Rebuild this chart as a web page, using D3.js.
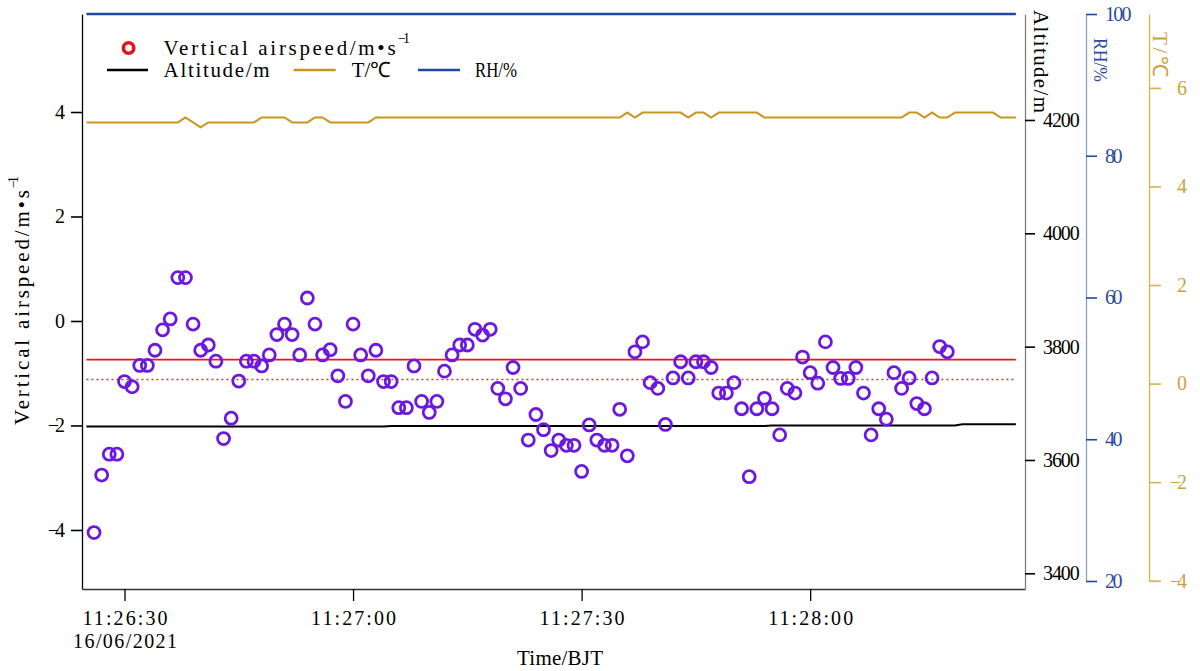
<!DOCTYPE html>
<html>
<head>
<meta charset="utf-8">
<script src="https://cdn.jsdelivr.net/npm/d3@7"></script>
<style>
  html, body { margin: 0; padding: 0; background: #fff; }
  svg { display: block; }
</style>
</head>
<body>
<svg id="chart" width="1200" height="671"></svg>
<script>
// ---- Data: 1 Hz aircraft samples, 16 June 2021 ----
const airspeedStart = "2021-06-16T11:26:26";
const airspeed = [
  -4.05, -2.95, -2.55, -2.55, -1.16, -1.26, -0.85, -0.85, -0.56, -0.17,
   0.04,  0.83,  0.83, -0.06, -0.56, -0.46, -0.77, -2.25, -1.86, -1.15,
  -0.77, -0.77, -0.86, -0.65, -0.26, -0.06, -0.26, -0.65,  0.44, -0.06,
  -0.65, -0.55, -1.05, -1.54, -0.06, -0.65, -1.05, -0.56, -1.16, -1.16,
  -1.66, -1.66, -0.86, -1.54, -1.75, -1.54, -0.96, -0.65, -0.46, -0.46,
  -0.16, -0.27, -0.16, -1.29, -1.49, -0.89, -1.29, -2.28, -1.79, -2.08,
  -2.48, -2.28, -2.38, -2.38, -2.88, -1.99, -2.28, -2.38, -2.38, -1.69,
  -2.58, -0.59, -0.40, -1.18, -1.29, -1.98, -1.09, -0.78, -1.09, -0.78,
  -0.78, -0.89, -1.38, -1.38, -1.18, -1.68, -2.98, -1.68, -1.48, -1.68,
  -2.18, -1.29, -1.38, -0.69, -0.99, -1.19, -0.40, -0.89, -1.10, -1.10,
  -0.89, -1.38, -2.18, -1.68, -1.88, -0.99, -1.29, -1.09, -1.58, -1.68,
  -1.09, -0.49, -0.59
];

const profileStart = "2021-06-16T11:26:25";
const altitude = [
  3659,3659,3659,3659,3659,3659,3659,3659,3659,3659,
  3659,3659,3659,3659,3659,3659,3659,3659,3659,3659,
  3659,3659,3659,3659,3659,3659,3659,3659,3659,3659,
  3659,3659,3659,3659,3659,3659,3659,3659,3659,3659,
  3660,3660,3660,3660,3660,3660,3660,3660,3660,3660,
  3660,3660,3660,3660,3660,3660,3660,3660,3660,3660,
  3660,3660,3660,3660,3660,3660,3660,3660,3660,3660,
  3660,3660,3660,3660,3660,3660,3660,3660,3660,3660,
  3660,3660,3660,3660,3660,3660,3660,3660,3660,3660,
  3661,3661,3661,3661,3661,3661,3661,3661,3661,3661,
  3661,3661,3661,3661,3661,3661,3661,3661,3661,3661,
  3661,3661,3661,3661,3661,3663,3663,3663,3663,3663,
  3663,3663,3663
];
const temperature = [
  5.3,5.3,5.3,5.3,5.3,5.3,5.3,5.3,5.3,5.3,
  5.3,5.3,5.3,5.4,5.3,5.2,5.3,5.3,5.3,5.3,
  5.3,5.3,5.3,5.4,5.4,5.4,5.4,5.3,5.3,5.3,
  5.4,5.4,5.3,5.3,5.3,5.3,5.3,5.3,5.4,5.4,
  5.4,5.4,5.4,5.4,5.4,5.4,5.4,5.4,5.4,5.4,
  5.4,5.4,5.4,5.4,5.4,5.4,5.4,5.4,5.4,5.4,
  5.4,5.4,5.4,5.4,5.4,5.4,5.4,5.4,5.4,5.4,
  5.4,5.5,5.4,5.5,5.5,5.5,5.5,5.5,5.5,5.4,
  5.5,5.5,5.4,5.5,5.5,5.5,5.5,5.5,5.5,5.4,
  5.4,5.4,5.4,5.4,5.4,5.4,5.4,5.4,5.4,5.4,
  5.4,5.4,5.4,5.4,5.4,5.4,5.4,5.4,5.5,5.5,
  5.4,5.5,5.4,5.4,5.5,5.5,5.5,5.5,5.5,5.5,
  5.4,5.4,5.4
];
const humidity = [
  100,100,100,100,100,100,100,100,100,100,
  100,100,100,100,100,100,100,100,100,100,
  100,100,100,100,100,100,100,100,100,100,
  100,100,100,100,100,100,100,100,100,100,
  100,100,100,100,100,100,100,100,100,100,
  100,100,100,100,100,100,100,100,100,100,
  100,100,100,100,100,100,100,100,100,100,
  100,100,100,100,100,100,100,100,100,100,
  100,100,100,100,100,100,100,100,100,100,
  100,100,100,100,100,100,100,100,100,100,
  100,100,100,100,100,100,100,100,100,100,
  100,100,100,100,100,100,100,100,100,100,
  100,100,100
];

// reference levels of vertical airspeed (m/s)
const speedLevelSolid = -0.74;
const speedLevelDotted = -1.12;

const timeTicks = ["11:26:30", "11:27:00", "11:27:30", "11:28:00"];
const dateLabel = "16/06/2021";
const speedTicks = [-4, -2, 0, 2, 4];
const altitudeTicks = [3400, 3600, 3800, 4000, 4200];
const humidityTicks = [20, 40, 60, 80, 100];
const temperatureTicks = [-4, -2, 0, 2, 4, 6];

// ---- Setup ----
const FONT = '"Liberation Serif", "Times New Roman", serif';
const COL = {
  ring: "#6c18e0",
  legendRing: "#e5121b",
  red: "#e41a1a",
  dotted: "#b4472c",
  alt: "#000000",
  temp: "#c8961e",
  tempAxis: "#d4b24c",
  tempText: "#c9a23e",
  rh: "#1d48a8",
  rhAxis: "#8aa0c2",
  rhText: "#2b4ca0"
};

const svg = d3.select("#chart");
const parse = d3.timeParse("%Y-%m-%dT%H:%M:%S");
const day = "2021-06-16T";
const plus = (d, s) => new Date(d.getTime() + s * 1000);

const speedT0 = parse(airspeedStart);
const speedData = airspeed.map((v, i) => ({ t: plus(speedT0, i), v }));
const profT0 = parse(profileStart);
const profile = altitude.map((a, i) => ({
  t: plus(profT0, i), alt: a, temp: temperature[i], rh: humidity[i]
}));

const plotL = 82, plotR = 1025, plotT = 14, plotB = 589;

const x = d3.scaleTime()
  .domain([plus(parse(day + "11:26:24"), 0.42), plus(parse(day + "11:28:28"), 0.2)])
  .range([plotL, plotR]);
const ySpeed = d3.scaleLinear().domain([-5.13, 5.876]).range([plotB, plotT]);
const yAlt = d3.scaleLinear().domain([3372.3, 4387]).range([plotB, plotT]);
const yRH = d3.scaleLinear().domain([20, 100]).range([581, plotT]);
const yT = d3.scaleLinear().domain([-4, 7.5]).range([580.7, plotT]);

const minus = s => s.replace("-", "\u2212");

// text helper: evenly spaced serif text, optional rotation
function label(parent, px, py, str, o = {}) {
  const t = parent.append("text")
    .attr("transform", `translate(${px},${py}) rotate(${o.rotate || 0})`)
    .attr("font-family", FONT)
    .attr("font-size", o.size || 21)
    .attr("text-anchor", o.anchor || "start")
    .attr("dominant-baseline", o.baseline || "central")
    .attr("fill", o.fill || "#000")
    .text(str);
  if (o.len) t.attr("textLength", o.len).attr("lengthAdjust", o.adjust || "spacing");
  return t;
}

function styleAxis(g, o) {
  g.select(".domain").attr("stroke", o.line).attr("stroke-width", o.lineWidth || 1.3);
  g.selectAll(".tick line").attr("stroke", o.tick).attr("stroke-width", 1.6);
  g.selectAll(".tick text")
    .attr("font-family", FONT)
    .attr("font-size", o.size)
    .attr("fill", o.text)
    .attr("text-anchor", o.anchor)
    .attr("x", o.dx)
    .attr("textLength", function () { return this.textContent.length * o.cell; })
    .attr("lengthAdjust", "spacing");
}

// ---- Axes ----
const gLeft = svg.append("g").attr("transform", `translate(${plotL},0)`)
  .call(d3.axisLeft(ySpeed).tickValues(speedTicks).tickSize(11).tickSizeOuter(0)
    .tickFormat(d => minus(String(d))));
styleAxis(gLeft, { line: "#000", tick: "#000", text: "#000", size: 20, cell: 8.6, dx: -17, anchor: "end" });

const gBottom = svg.append("g").attr("transform", `translate(0,${plotB})`)
  .call(d3.axisBottom(x).tickValues(timeTicks.map(s => parse(day + s)))
    .tickSize(12).tickSizeOuter(0).tickFormat(d3.timeFormat("%H:%M:%S")));
gBottom.select(".domain").attr("stroke", "#333").attr("stroke-width", 1.3);
gBottom.selectAll(".tick line").attr("stroke", "#000").attr("stroke-width", 1.3);
gBottom.selectAll(".tick text")
  .attr("font-family", FONT).attr("font-size", 20).attr("fill", "#000")
  .attr("y", 36).attr("dy", null)
  .attr("textLength", 85).attr("lengthAdjust", "spacing");
// first tick carries the date on a second line
const firstTick = gBottom.select(".tick text");
const firstTime = firstTick.text();
firstTick.text(null).attr("textLength", null);
firstTick.append("tspan").attr("x", 0).attr("y", 36)
  .attr("textLength", 85).attr("lengthAdjust", "spacing").text(firstTime);
firstTick.append("tspan").attr("x", 0).attr("y", 59)
  .attr("textLength", 104).attr("lengthAdjust", "spacing").text(dateLabel);

const gAlt = svg.append("g").attr("transform", `translate(${plotR},0)`)
  .call(d3.axisRight(yAlt).tickValues(altitudeTicks).tickSize(10).tickSizeOuter(0)
    .tickFormat(d3.format("d")));
styleAxis(gAlt, { line: "#808080", tick: "#000", text: "#000", size: 20, cell: 9.2, dx: 18, anchor: "start" });

const gRH = svg.append("g").attr("transform", "translate(1086,0)")
  .call(d3.axisRight(yRH).tickValues(humidityTicks).tickSize(11).tickSizeOuter(0)
    .tickFormat(d3.format("d")));
styleAxis(gRH, { line: COL.rhAxis, tick: COL.rh, text: COL.rhText, size: 20, cell: 8.8, dx: 19, anchor: "start" });

const gT = svg.append("g").attr("transform", "translate(1149,0)")
  .call(d3.axisRight(yT).tickValues(temperatureTicks).tickSize(12).tickSizeOuter(0)
    .tickFormat(d => minus(String(d))));
styleAxis(gT, { line: COL.tempAxis, tick: COL.tempAxis, text: COL.tempText, size: 20, cell: 8.6, dx: 38, anchor: "end" });

// ---- Axis titles ----
label(svg, 22, 425, "Vertical airspeed/m\u2022s", { rotate: -90, len: 235 });
label(svg, 13, 188, "\u22121", { rotate: -90, size: 14, len: 12 });

label(svg, 1041, 10, "Altitude/m", { rotate: 90, len: 103 });
label(svg, 1100, 38, "RH/%", { rotate: 90, fill: COL.rhText, size: 19, len: 44, adjust: "spacingAndGlyphs" });
label(svg, 1160, 32, "T/\u2103", { rotate: 90, fill: COL.tempText, len: 45 });
label(svg, 560, 658, "Time/BJT", { anchor: "middle", len: 86 });

// ---- Lines ----
const plot = svg.append("g");

plot.append("path").datum(profile)
  .attr("fill", "none").attr("stroke", COL.rh).attr("stroke-width", 2.6)
  .attr("d", d3.line().x(d => x(d.t)).y(d => yRH(d.rh)));

plot.append("path").datum(profile)
  .attr("fill", "none").attr("stroke", COL.temp).attr("stroke-width", 2)
  .attr("d", d3.line().x(d => x(d.t)).y(d => yT(d.temp)));

plot.append("path").datum(profile)
  .attr("fill", "none").attr("stroke", COL.alt).attr("stroke-width", 2)
  .attr("d", d3.line().x(d => x(d.t)).y(d => yAlt(d.alt)));

const tStart = profile[0].t, tEnd = profile[profile.length - 1].t;
plot.append("line")
  .attr("x1", x(tStart)).attr("x2", x(tEnd))
  .attr("y1", ySpeed(speedLevelSolid)).attr("y2", ySpeed(speedLevelSolid))
  .attr("stroke", COL.red).attr("stroke-width", 1.6);
plot.append("line")
  .attr("x1", x(tStart)).attr("x2", x(tEnd))
  .attr("y1", ySpeed(speedLevelDotted)).attr("y2", ySpeed(speedLevelDotted))
  .attr("stroke", COL.dotted).attr("stroke-width", 1.5).attr("stroke-dasharray", "2,3");

// ---- Vertical airspeed rings ----
plot.selectAll("circle.ring").data(speedData).join("circle")
  .attr("class", "ring")
  .attr("cx", d => x(d.t)).attr("cy", d => ySpeed(d.v))
  .attr("r", 6).attr("fill", "none")
  .attr("stroke", COL.ring).attr("stroke-width", 2.8);

// ---- Legend ----
const lg = svg.append("g");
lg.append("circle").attr("cx", 128.6).attr("cy", 48).attr("r", 5.2)
  .attr("fill", "none").attr("stroke", COL.legendRing).attr("stroke-width", 3.6);
label(lg, 163.6, 48, "Vertical airspeed/m\u2022s", { len: 232 });
label(lg, 398, 38, "\u22121", { size: 14, len: 12 });

const legendRow = [
  { x1: 107, x2: 148, tx: 163.6, len: 106, color: COL.alt, name: "Altitude/m", adjust: "spacing" },
  { x1: 293.6, x2: 335.7, tx: 351.8, len: 39, color: COL.temp, name: "T/\u2103", adjust: "spacingAndGlyphs" },
  { x1: 418, x2: 460, tx: 475, len: 42, color: COL.rh, name: "RH/%", adjust: "spacingAndGlyphs" }
];
legendRow.forEach(e => {
  lg.append("line").attr("x1", e.x1).attr("x2", e.x2).attr("y1", 70).attr("y2", 70)
    .attr("stroke", e.color).attr("stroke-width", 2.4);
  label(lg, e.tx, 70, e.name, { len: e.len, adjust: e.adjust });
});
</script>
</body>
</html>
